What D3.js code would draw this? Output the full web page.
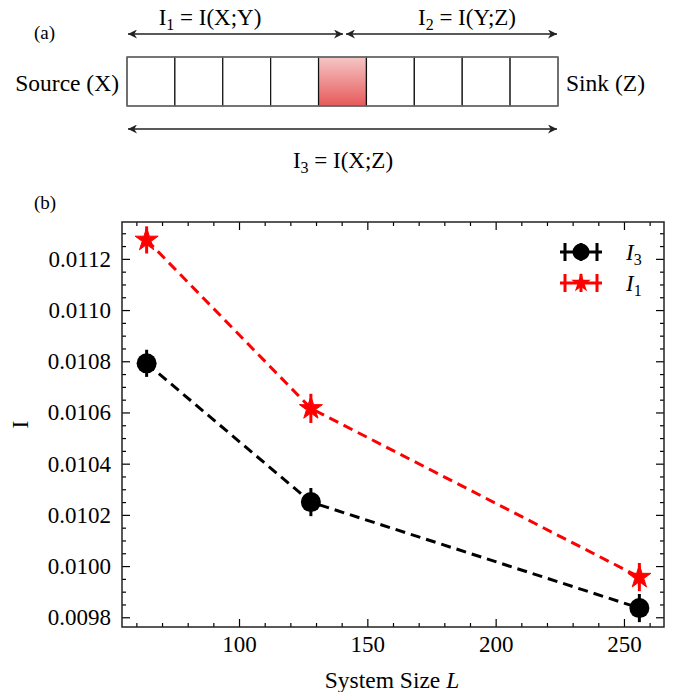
<!DOCTYPE html>
<html>
<head>
<meta charset="utf-8">
<script src="https://cdn.jsdelivr.net/npm/d3@7"></script>
<style>
  body { margin: 0; background: #fff; }
  text { font-family: "Liberation Serif", "DejaVu Serif", serif; fill: #000; }
</style>
</head>
<body>
<div id="chart"></div>
<script>
// data
const sizes = [64, 128, 256];
const i3Values = [0.010792, 0.010250, 0.009836];
const i3Errors = [0.000053, 0.000055, 0.000055];
const i1Values = [0.011274, 0.010616, 0.009957];
const i1Errors = [0.000053, 0.000057, 0.000055];
const xTicks = [100, 150, 200, 250];
const yTicks = [0.0098, 0.0100, 0.0102, 0.0104, 0.0106, 0.0108, 0.0110, 0.0112];
const cellCount = 9;
const highlightCell = 4;

const W = 678, H = 692;
const svg = d3.select("#chart").append("svg")
    .attr("width", W)
    .attr("height", H);

const defs = svg.append("defs");
const grad = defs.append("linearGradient")
    .attr("id", "redcell")
    .attr("x1", 0).attr("y1", 0).attr("x2", 0).attr("y2", 1);
grad.append("stop").attr("offset", "0%").attr("stop-color", "#f6c6c6");
grad.append("stop").attr("offset", "100%").attr("stop-color", "#e65a5a");

defs.append("marker")
    .attr("id", "ahead")
    .attr("viewBox", "0 0 10 10")
    .attr("refX", 10).attr("refY", 5)
    .attr("markerWidth", 9).attr("markerHeight", 9)
    .attr("markerUnits", "userSpaceOnUse")
    .attr("orient", "auto-start-reverse")
    .append("path")
    .attr("d", "M0,0 L10,5 L0,10 L3,5 Z")
    .attr("fill", "#222");

// ---------- (a) diagram ----------
const diagram = svg.append("g");
const cellX = d3.scaleLinear().domain([0, cellCount]).range([127, 558]);
const boxTop = 57, boxBottom = 106;

diagram.append("text").attr("x", 34).attr("y", 39).style("font-size", "19px").text("(a)");

diagram.selectAll("rect.cell")
    .data(d3.range(cellCount))
    .enter()
    .append("rect")
    .attr("class", "cell")
    .attr("x", d => cellX(d))
    .attr("y", boxTop)
    .attr("width", cellX(1) - cellX(0))
    .attr("height", boxBottom - boxTop)
    .attr("fill", d => d === highlightCell ? "url(#redcell)" : "#fff")
    .attr("stroke", "#111")
    .attr("stroke-width", 1.2);

diagram.append("line")
    .attr("x1", cellX(0)).attr("x2", cellX(cellCount))
    .attr("y1", boxTop).attr("y2", boxTop)
    .attr("stroke", "#777").attr("stroke-width", 1.4);
diagram.append("line")
    .attr("x1", cellX(0)).attr("x2", cellX(cellCount))
    .attr("y1", boxBottom).attr("y2", boxBottom)
    .attr("stroke", "#777").attr("stroke-width", 1.4);

diagram.append("text").attr("x", 119).attr("y", 91)
    .attr("text-anchor", "end").style("font-size", "23.5px").text("Source (X)");
diagram.append("text").attr("x", 566).attr("y", 91)
    .style("font-size", "23.5px").text("Sink (Z)");

function arrow(x1, x2, y) {
    diagram.append("line")
        .attr("x1", x1).attr("x2", x2)
        .attr("y1", y).attr("y2", y)
        .attr("stroke", "#222").attr("stroke-width", 1.3)
        .attr("marker-start", "url(#ahead)")
        .attr("marker-end", "url(#ahead)");
}
arrow(128, 343, 34);
arrow(346, 557, 34);
arrow(128, 557, 129);

function subLabel(x, y, sub, rest) {
    const t = diagram.append("text").attr("x", x).attr("y", y)
        .attr("text-anchor", "middle").style("font-size", "23px");
    t.append("tspan").text("I");
    t.append("tspan").attr("dy", 5).style("font-size", "16px").text(sub);
    t.append("tspan").attr("dy", -5).text(rest);
}
subLabel(210, 25, "1", " = I(X;Y)");
subLabel(467, 25, "2", " = I(Y;Z)");
subLabel(343, 168, "3", " = I(X;Z)");

diagram.append("text").attr("x", 34).attr("y", 209).style("font-size", "19px").text("(b)");

// ---------- (b) plot ----------
const plot = { left: 122, right: 664, top: 222, bottom: 627 };
const x = d3.scaleLinear().domain([54.4, 265.6]).range([plot.left, plot.right]);
const y = d3.scaleLinear().domain([0.009762, 0.011344]).range([plot.bottom, plot.top]);

const g = svg.append("g");

const xMinor = d3.range(60, 266, 10).filter(v => !xTicks.includes(v));
const yMinor = d3.range(0, 40).map(i => +(0.00975 + i * 0.00005).toFixed(6))
    .filter(v => v >= y.domain()[0] && v <= y.domain()[1])
    .filter(v => !yTicks.some(t => Math.abs(t - v) < 1e-9));

function axisStyle(sel) {
    sel.select(".domain").remove();
    sel.selectAll(".tick line").attr("stroke", "#000").attr("stroke-width", 1.2);
    sel.selectAll(".tick text")
        .style("font-family", "'Liberation Serif', serif")
        .style("font-size", "23px");
}

// bottom
g.append("g").attr("transform", `translate(0,${plot.bottom})`)
    .call(d3.axisBottom(x).tickValues(xTicks).tickSizeInner(-8).tickSizeOuter(0).tickPadding(9).tickFormat(d3.format("d")))
    .call(axisStyle);
g.append("g").attr("transform", `translate(0,${plot.bottom})`)
    .call(d3.axisBottom(x).tickValues(xMinor).tickSizeInner(-4).tickSizeOuter(0).tickFormat(""))
    .call(axisStyle);
// top
g.append("g").attr("transform", `translate(0,${plot.top})`)
    .call(d3.axisTop(x).tickValues(xTicks).tickSizeInner(-8).tickSizeOuter(0).tickFormat(""))
    .call(axisStyle);
g.append("g").attr("transform", `translate(0,${plot.top})`)
    .call(d3.axisTop(x).tickValues(xMinor).tickSizeInner(-4).tickSizeOuter(0).tickFormat(""))
    .call(axisStyle);
// left
g.append("g").attr("transform", `translate(${plot.left},0)`)
    .call(d3.axisLeft(y).tickValues(yTicks).tickSizeInner(-8).tickSizeOuter(0).tickPadding(11).tickFormat(d3.format(".4f")))
    .call(axisStyle);
g.append("g").attr("transform", `translate(${plot.left},0)`)
    .call(d3.axisLeft(y).tickValues(yMinor).tickSizeInner(-4).tickSizeOuter(0).tickFormat(""))
    .call(axisStyle);
// right
g.append("g").attr("transform", `translate(${plot.right},0)`)
    .call(d3.axisRight(y).tickValues(yTicks).tickSizeInner(-8).tickSizeOuter(0).tickFormat(""))
    .call(axisStyle);
g.append("g").attr("transform", `translate(${plot.right},0)`)
    .call(d3.axisRight(y).tickValues(yMinor).tickSizeInner(-4).tickSizeOuter(0).tickFormat(""))
    .call(axisStyle);

g.append("rect")
    .attr("x", plot.left).attr("y", plot.top)
    .attr("width", plot.right - plot.left).attr("height", plot.bottom - plot.top)
    .attr("fill", "none").attr("stroke", "#222").attr("stroke-width", 1.5);

// axis labels
const xl = g.append("text")
    .attr("x", 392).attr("y", 688)
    .attr("text-anchor", "middle").style("font-size", "23.5px");
xl.append("tspan").text("System Size ");
xl.append("tspan").style("font-style", "italic").text("L");

g.append("text")
    .attr("transform", `translate(28,${(plot.top + plot.bottom) / 2}) rotate(-90)`)
    .attr("text-anchor", "middle").style("font-size", "23.5px").text("I");

// series
const series = [
    { name: "3", values: i3Values, errors: i3Errors, color: "#000", marker: "circle" },
    { name: "1", values: i1Values, errors: i1Errors, color: "#ff0000", marker: "star" }
];

const line = d3.line().x(d => x(d[0])).y(d => y(d[1]));
const star = d3.symbol().type(d3.symbolStar).size(165);

series.forEach(s => {
    const pts = sizes.map((L, i) => [L, s.values[i], s.errors[i]]);
    const sg = g.append("g");
    sg.append("path")
        .attr("d", line(pts))
        .attr("fill", "none")
        .attr("stroke", s.color)
        .attr("stroke-width", 3)
        .attr("stroke-dasharray", "10,6");
    sg.selectAll("line.err")
        .data(pts)
        .enter()
        .append("line")
        .attr("x1", d => x(d[0])).attr("x2", d => x(d[0]))
        .attr("y1", d => y(d[1] - d[2])).attr("y2", d => y(d[1] + d[2]))
        .attr("stroke", s.color).attr("stroke-width", 3);
    if (s.marker === "circle") {
        sg.selectAll("circle")
            .data(pts).enter().append("circle")
            .attr("cx", d => x(d[0])).attr("cy", d => y(d[1]))
            .attr("r", 10).attr("fill", s.color);
    } else {
        sg.selectAll("path.star")
            .data(pts).enter().append("path")
            .attr("class", "star")
            .attr("d", star)
            .attr("transform", d => `translate(${x(d[0])},${y(d[1])})`)
            .attr("fill", s.color)
            .attr("stroke", s.color).attr("stroke-width", 1);
    }
});

// legend
const lg = g.append("g");
series.forEach((s, i) => {
    const ly = 252 + i * 31;
    const row = lg.append("g");
    row.append("line").attr("x1", 560).attr("x2", 602).attr("y1", ly).attr("y2", ly)
        .attr("stroke", s.color).attr("stroke-width", 3);
    [565, 581, 597].forEach(cx => {
        row.append("line").attr("x1", cx).attr("x2", cx).attr("y1", ly - 9).attr("y2", ly + 9)
            .attr("stroke", s.color).attr("stroke-width", 3);
    });
    if (s.marker === "circle") {
        row.append("circle").attr("cx", 581).attr("cy", ly).attr("r", 8.5).attr("fill", s.color);
    } else {
        row.append("path").attr("d", d3.symbol().type(d3.symbolStar).size(120))
            .attr("transform", `translate(581,${ly})`).attr("fill", s.color);
    }
    const t = row.append("text").attr("x", 626).attr("y", ly + 8).style("font-size", "23px");
    t.append("tspan").style("font-style", "italic").text("I");
    t.append("tspan").attr("dy", 5).style("font-size", "16px").text(s.name);
});
</script>
</body>
</html>
